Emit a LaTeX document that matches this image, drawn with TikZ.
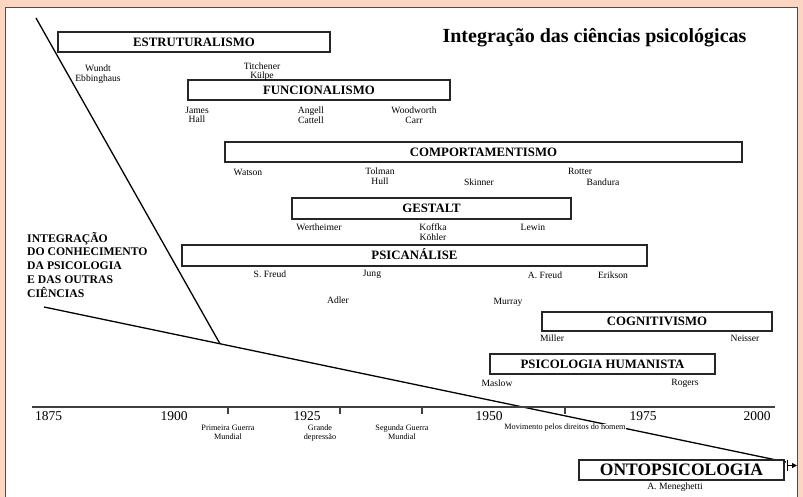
\documentclass[tikz,border=0pt]{standalone}
\usepackage{fontspec}
\setmainfont{Liberation Serif}
\usetikzlibrary{arrows.meta}
\definecolor{pinkbg}{RGB}{252,213,195}
\begin{document}
\begin{tikzpicture}[x=1pt,y=-1pt,
  school/.style={draw=black!85, line width=1.3pt, fill=white, inner sep=0pt,
    text height=8.5pt, text depth=0pt, font=\bfseries\fontsize{12.8}{14}\selectfont},
  person/.style={inner sep=0pt, align=center, font=\fontsize{9.6}{9.5}\selectfont},
  event/.style={inner sep=0.5pt, align=center, font=\fontsize{8.2}{9}\selectfont},
  yearlabel/.style={inner sep=0pt, font=\fontsize{13.5}{14}\selectfont},
  sidetext/.style={inner sep=0pt, anchor=base west, font=\bfseries\fontsize{11.7}{13}\selectfont},
  trend/.style={line width=1.3pt, black},
  axisline/.style={line width=1.4pt, black!75},
  tickmark/.style={line width=1.4pt, black!75},
]
\useasboundingbox (0,0) rectangle (803,497);
\fill[pinkbg] (0,0) rectangle (803,497);
\draw[fill=white, draw=black!70, line width=1pt] (5.5,8) rectangle (797.5,510);

% title
\node[inner sep=0pt, anchor=base, font=\bfseries\fontsize{20}{22}\selectfont] (title) at (594.5,43) {Integração das ciências psicológicas};

% trend lines
\coordinate (topStart) at (36,18);
\coordinate (lineStart) at (44,307);
\coordinate (junction) at (220,343.8);
\coordinate (lineEnd) at (786,462);
\draw[trend] (topStart) -- (junction);
\draw[trend] (lineStart) -- (lineEnd);

% end marker
\coordinate (markTop) at (787,459.5);
\coordinate (markBot) at (787,470.5);
\coordinate (markMid) at (787,465.5);
\coordinate (markTip) at (797,465.5);
\draw[line width=1pt] (markTop) -- (markBot);
\draw[line width=1pt, -{Triangle[length=5pt,width=5pt]}] (markMid) -- (markTip);

% time axis
\coordinate (axisL) at (32,407);
\coordinate (axisR) at (775,407);
\draw[axisline] (axisL) -- (axisR);
\foreach \tx in {228,340,422,565} \draw[tickmark] (\tx,407) -- (\tx,414);

\node[yearlabel] (y1875) at (48.5,416) {1875};
\node[yearlabel] (y1900) at (174,416) {1900};
\node[yearlabel] (y1925) at (307,416) {1925};
\node[yearlabel] (y1950) at (489,416) {1950};
\node[yearlabel] (y1975) at (643,416) {1975};
\node[yearlabel] (y2000) at (757,416) {2000};

\node[event] (ev1) at (228,432) {Primeira Guerra\\Mundial};
\node[event] (ev2) at (320,433) {Grande\\depressão};
\node[event] (ev3) at (402,432) {Segunda Guerra\\Mundial};
\node[event, fill=white] (ev4) at (565,428) {Movimento pelos direitos do homem};

% side text
\node[sidetext] (s1) at (27,242) {INTEGRAÇÃO};
\node[sidetext] (s2) at (27,255.8) {DO CONHECIMENTO};
\node[sidetext] (s3) at (27,269.5) {DA PSICOLOGIA};
\node[sidetext] (s4) at (27,283.3) {E DAS OUTRAS};
\node[sidetext] (s5) at (27,297) {CIÊNCIAS};

% schools
\node[school, minimum width=272pt, minimum height=20pt] (estr) at (194,42) {ESTRUTURALISMO};
\node[school, minimum width=262pt, minimum height=20pt] (func) at (319,90) {FUNCIONALISMO};
\node[school, minimum width=517pt, minimum height=20pt] (comp) at (483.5,152) {COMPORTAMENTISMO};
\node[school, minimum width=279pt, minimum height=21pt] (gest) at (431.5,208.5) {GESTALT};
\node[school, minimum width=465pt, minimum height=21pt] (psic) at (414.5,255.5) {PSICANÁLISE};
\node[school, minimum width=230pt, minimum height=19pt] (cogn) at (657,321.5) {COGNITIVISMO};
\node[school, minimum width=225pt, minimum height=20pt] (huma) at (602.5,364) {PSICOLOGIA HUMANISTA};
\node[school, minimum width=205pt, minimum height=20pt, text height=11.6pt, font=\bfseries\fontsize{17.5}{19}\selectfont] (onto) at (681.5,470) {ONTOPSICOLOGIA};

% people
\node[person] (p1) at (98,74) {Wundt\\Ebbinghaus};
\node[person] (p2) at (262,71.5) {Titchener\\Külpe};
\node[person] (p3) at (197,115) {James\\Hall};
\node[person] (p4) at (311,115) {Angell\\Cattell};
\node[person] (p5) at (414,115) {Woodworth\\Carr};
\node[person] (p6) at (248,172) {Watson};
\node[person] (p7) at (380,176) {Tolman\\Hull};
\node[person] (p8) at (479,182) {Skinner};
\node[person] (p9) at (580,171) {Rotter};
\node[person] (p10) at (603,182) {Bandura};
\node[person] (p11) at (319,227) {Wertheimer};
\node[person] (p12) at (433,232) {Koffka\\Köhler};
\node[person] (p13) at (533,227) {Lewin};
\node[person] (p14) at (270,274) {S. Freud};
\node[person] (p15) at (372,274) {Jung};
\node[person] (p16) at (545,275) {A. Freud};
\node[person] (p17) at (613,275) {Erikson};
\node[person] (p18) at (338,300) {Adler};
\node[person] (p19) at (508,302) {Murray};
\node[person] (p20) at (552,338) {Miller};
\node[person] (p21) at (745,338) {Neisser};
\node[person] (p22) at (497,383) {Maslow};
\node[person] (p23) at (685,383) {Rogers};
\node[person] (p24) at (675,487) {A. Meneghetti};
\end{tikzpicture}
\end{document}
